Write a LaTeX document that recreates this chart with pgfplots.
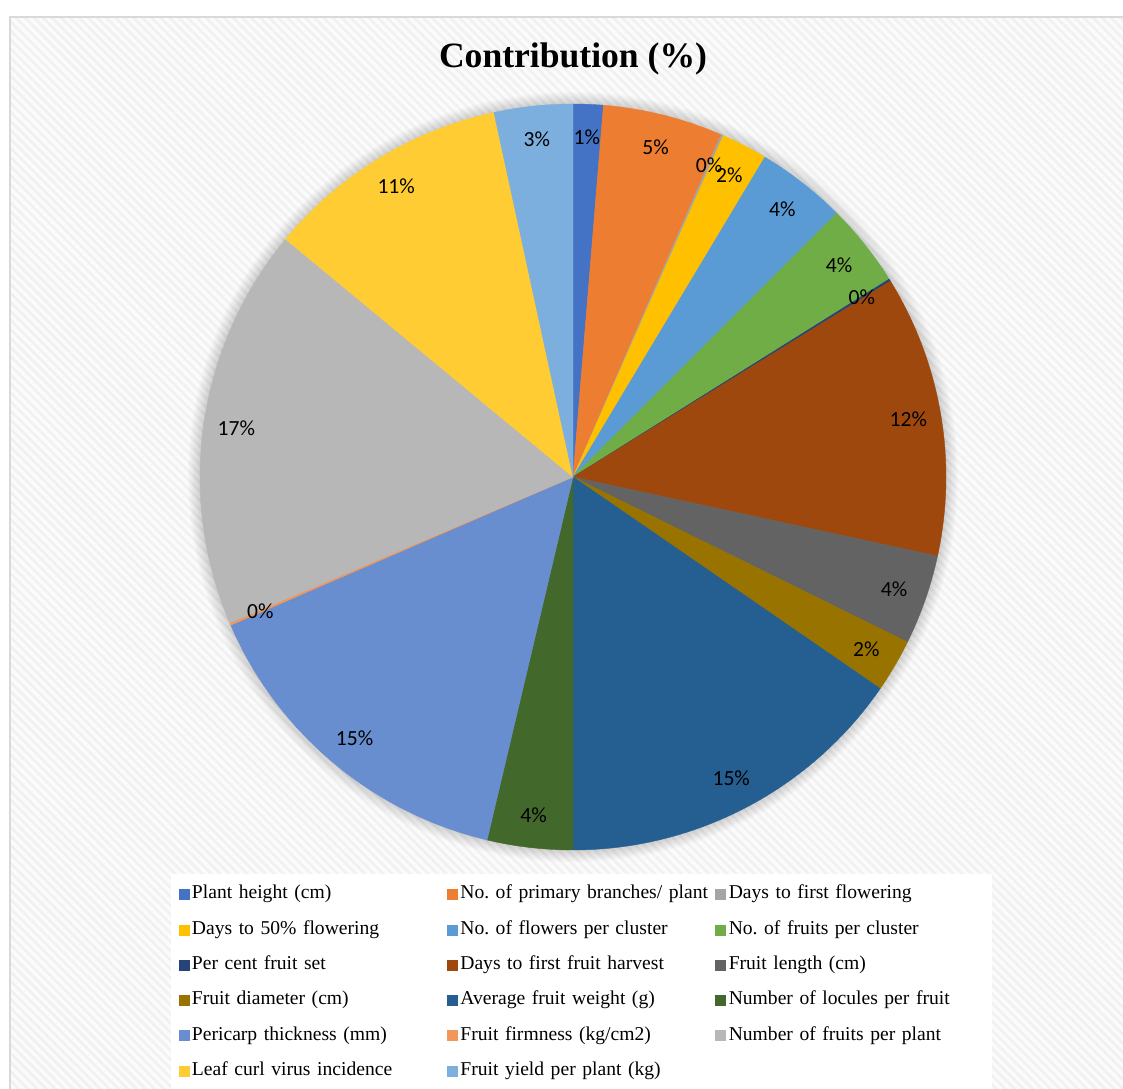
\documentclass[border=0pt]{standalone}
\usepackage{pgfplots}
\pgfplotsset{compat=1.18}
\usepackage{fontspec}
\setmainfont{Liberation Serif}
\newfontfamily\labelfont{Carlito}
\usetikzlibrary{patterns.meta}
\frenchspacing

\definecolor{c1}{HTML}{4472C4}
\definecolor{c2}{HTML}{ED7D31}
\definecolor{c3}{HTML}{A5A5A5}
\definecolor{c4}{HTML}{FFC000}
\definecolor{c5}{HTML}{5B9BD5}
\definecolor{c6}{HTML}{70AD47}
\definecolor{c7}{HTML}{264478}
\definecolor{c8}{HTML}{9E480E}
\definecolor{c9}{HTML}{636363}
\definecolor{c10}{HTML}{997300}
\definecolor{c11}{HTML}{255E91}
\definecolor{c12}{HTML}{43682B}
\definecolor{c13}{HTML}{698ED0}
\definecolor{c14}{HTML}{F1975A}
\definecolor{c15}{HTML}{B7B7B7}
\definecolor{c16}{HTML}{FFCD33}
\definecolor{c17}{HTML}{7CAFDD}

\tikzset{slicelabel/.style={font=\labelfont\fontsize{10.8}{13}\selectfont, text=black, inner sep=0pt}}

\newcommand\cum{0}
\newcommand\alllabels{}
% #1 value (%), #2 colour, #3 legend text
\newcommand\slice[3]{%
  \pgfmathsetmacro\sa{90-3.6*\cum}%
  \pgfmathsetmacro\sb{90-3.6*(\cum+#1)}%
  \pgfmathsetmacro\sm{(\sa+\sb)/2}%
  \pgfmathsetmacro\lx{0.912*cos(\sm)}%
  \pgfmathsetmacro\ly{0.912*sin(\sm)}%
  \pgfmathtruncatemacro\pct{round(#1)}%
  \pgfmathsetmacro\newcum{\cum+#1}%
  \xdef\cum{\newcum}%
  \xdef\alllabels{\unexpanded\expandafter{\alllabels}\noexpand\node[slicelabel] at (axis cs:\lx,\ly) {\pct\noexpand\%};}%
  \edef\tmp{%
    \noexpand\addplot[fill=#2, draw=#2, line width=0.2pt, domain=\sb:\sa, samples=100, data cs=polar] ({x},{1}) -- (axis cs:0,0) -- cycle;%
    \noexpand\addlegendentry{\noexpand\mbox{\unexpanded{#3}}}%
  }\tmp
}

\begin{document}
\begin{tikzpicture}[x=1pt,y=1pt]
\useasboundingbox (0,0) rectangle (561.5,544);
\begin{scope}
\clip (0,0) rectangle (561.5,544);
\fill[white] (0,0) rectangle (561.5,544);
\fill[gray!3] (5,-5) rectangle (570,535.5);
\fill[pattern={Lines[angle=-45,distance=3.2pt,line width=1.3pt]}, pattern color=gray!11] (5,-5) rectangle (570,535.5);
\draw[gray!30, line width=0.9pt] (5,-5) rectangle (570,535.5);
\end{scope}
\foreach \k in {1,...,10} \fill[black, opacity=0.016] (286.5,305.5) circle[radius=186.5+\k*0.6];
\node[font=\fontsize{17.8}{21}\selectfont\bfseries] at (286.5,514.5) {Contribution (\%)};
\begin{axis}[
  at={(286.5pt,305.5pt)}, anchor=center,
  scale only axis, width=373pt, height=373pt,
  xmin=-1, xmax=1, ymin=-1, ymax=1,
  hide axis, clip=false,
  legend columns=3,
  legend cell align=left,
  legend image code/.code={\fill[#1] (0pt,-2.5pt) rectangle (5pt,2.5pt);},
  legend style={at={(-0.040,-0.031)}, anchor=north west, draw=none, fill=white,
    inner xsep=4pt, inner ysep=5.7pt, row sep=8.15pt, column sep=0pt,
    font=\fontsize{9.8}{12}\selectfont,
    nodes={inner xsep=1.5pt, inner ysep=0pt, text width=126pt, text height=7pt, text depth=2.5pt, align=left}},
]
\slice{1.3}{c1}{Plant height (cm)}
\slice{5.2}{c2}{No. of primary branches/ plant}
\slice{0.1}{c3}{Days to first flowering}
\slice{2.0}{c4}{Days to 50\% flowering}
\slice{3.9}{c5}{No. of flowers per cluster}
\slice{3.6}{c6}{No. of fruits per cluster}
\slice{0.1}{c7}{Per cent fruit set}
\slice{12.2}{c8}{Days to first fruit harvest}
\slice{3.9}{c9}{Fruit length (cm)}
\slice{2.3}{c10}{Fruit diameter (cm)}
\slice{15.4}{c11}{Average fruit weight (g)}
\slice{3.7}{c12}{Number of locules per fruit}
\slice{14.8}{c13}{Pericarp thickness (mm)}
\slice{0.1}{c14}{Fruit firmness (kg/cm2)}
\slice{17.4}{c15}{Number of fruits per plant}
\slice{10.6}{c16}{Leaf curl virus incidence}
\slice{3.4}{c17}{Fruit yield per plant (kg)}
\alllabels
\end{axis}
\end{tikzpicture}
\end{document}
